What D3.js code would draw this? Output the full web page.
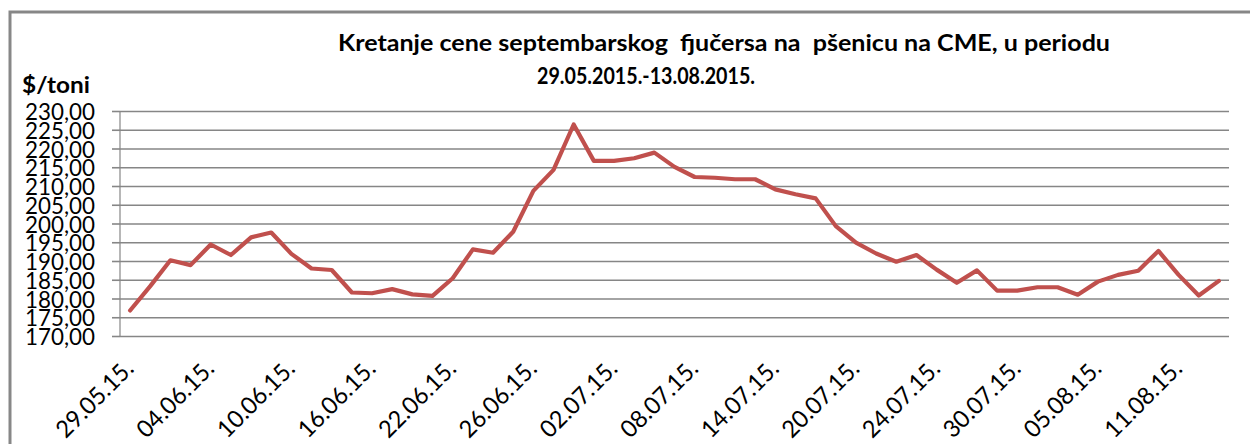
<!DOCTYPE html>
<html>
<head>
<meta charset="utf-8">
<script src="https://cdn.jsdelivr.net/npm/d3@7"></script>
<style>
  html, body { margin: 0; padding: 0; background: #fff; }
  svg { display: block; }
  text { font-family: Lato, "Open Sans", sans-serif; }
</style>
</head>
<body>
<svg id="chart" width="1250" height="444"></svg>
<script>
const dates = [
  "29.05.15.","01.06.15.","02.06.15.","03.06.15.","04.06.15.","05.06.15.","08.06.15.","09.06.15.",
  "10.06.15.","11.06.15.","12.06.15.","15.06.15.","16.06.15.","17.06.15.","18.06.15.","19.06.15.",
  "22.06.15.","23.06.15.","24.06.15.","25.06.15.","26.06.15.","29.06.15.","30.06.15.","01.07.15.",
  "02.07.15.","03.07.15.","06.07.15.","07.07.15.","08.07.15.","09.07.15.","10.07.15.","13.07.15.",
  "14.07.15.","15.07.15.","16.07.15.","17.07.15.","20.07.15.","21.07.15.","22.07.15.","23.07.15.",
  "24.07.15.","27.07.15.","28.07.15.","29.07.15.","30.07.15.","31.07.15.","03.08.15.","04.08.15.",
  "05.08.15.","06.08.15.","07.08.15.","10.08.15.","11.08.15.","12.08.15.","13.08.15."
];
const prices = [
  176.8, 183.3, 190.2, 188.9, 194.4, 191.6, 196.3, 197.6, 191.9, 188.0,
  187.6, 181.6, 181.4, 182.5, 181.1, 180.7, 185.4, 193.1, 192.2, 197.8,
  208.7, 214.3, 226.4, 216.7, 216.7, 217.4, 218.9, 215.1, 212.4, 212.2,
  211.8, 211.8, 209.1, 207.8, 206.7, 199.3, 194.9, 192.0, 189.8, 191.6,
  187.7, 184.2, 187.5, 182.1, 182.1, 183.0, 183.0, 181.0, 184.5, 186.3,
  187.4, 192.7, 186.3, 180.8, 184.7
];
const yTicks = [170, 175, 180, 185, 190, 195, 200, 205, 210, 215, 220, 225, 230];
const xLabelDates = ["29.05.15.","04.06.15.","10.06.15.","16.06.15.","22.06.15.","26.06.15.","02.07.15.",
  "08.07.15.","14.07.15.","20.07.15.","24.07.15.","30.07.15.","05.08.15.","11.08.15."];
const titleLine1 = "Kretanje cene septembarskog  fjučersa na  pšenicu na CME, u periodu";
const titleLine2 = "29.05.2015.-13.08.2015.";
const yUnit = "$/toni";

(function () {
const svg = d3.select("#chart");
const pLeft = 120, pRight = 1229, pTop = 111, pBottom = 336;
const grey = "#868686";

// outer chart border
svg.append("path")
  .attr("d", `M10,460 L10,12 L1260,12`)
  .attr("fill", "none").attr("stroke", "#878787").attr("stroke-width", 3);

const x = d3.scaleBand().domain(dates).range([pLeft, pRight]);
const y = d3.scaleLinear().domain([170, 230]).range([pBottom, pTop]);

// gridlines
const grid = svg.append("g").attr("transform", `translate(${pLeft},0)`)
  .call(d3.axisLeft(y).tickValues(yTicks).tickSize(-(pRight - pLeft)).tickFormat(""));
grid.select(".domain").remove();
grid.selectAll(".tick line").attr("stroke", grey).attr("stroke-width", 1.6);

// y axis with labels and outer tick marks
const fmt = v => d3.format(".2f")(v).replace(".", ",");
const yAxis = svg.append("g").attr("transform", `translate(${pLeft},0)`)
  .call(d3.axisLeft(y).tickValues(yTicks).tickSize(8).tickPadding(17).tickFormat(fmt));
yAxis.select(".domain").attr("stroke", grey).attr("stroke-width", 1.2).attr("d", `M0,${pTop}V${pBottom}`);
yAxis.selectAll(".tick line").attr("stroke", grey).attr("stroke-width", 1.6);
yAxis.selectAll(".tick text")
  .attr("fill", "#000").style("font-size", "24px").attr("dy", "0.36em")
  .attr("textLength", 70).attr("lengthAdjust", "spacingAndGlyphs");

// x axis labels
const xAxis = svg.append("g").attr("transform", `translate(0,${pBottom})`)
  .call(d3.axisBottom(x).tickValues(xLabelDates).tickSize(0));
xAxis.select(".domain").remove();
xAxis.selectAll(".tick text")
  .attr("fill", "#000").style("font-size", "24px")
  .attr("text-anchor", "end").attr("x", 0).attr("y", 0).attr("dy", 0)
  .attr("textLength", 98).attr("lengthAdjust", "spacingAndGlyphs")
  .attr("transform", "translate(5,34) rotate(-45)");

// line
const line = d3.line()
  .x((d, i) => x(dates[i]) + x.bandwidth() / 2)
  .y(d => y(d));
svg.append("path").datum(prices)
  .attr("d", line)
  .attr("fill", "none").attr("stroke", "#C0504D").attr("stroke-width", 4.2)
  .attr("stroke-linejoin", "round").attr("stroke-linecap", "round");

// titles
svg.append("text").attr("x", 338).attr("y", 51)
  .attr("xml:space", "preserve").style("white-space", "pre")
  .attr("textLength", 772).attr("lengthAdjust", "spacingAndGlyphs")
  .style("font-size", "23px").style("font-weight", "bold").attr("fill", "#000")
  .text(titleLine1);
svg.append("text").attr("x", 537).attr("y", 84)
  .attr("textLength", 218).attr("lengthAdjust", "spacingAndGlyphs")
  .style("font-size", "23px").style("font-weight", "bold").attr("fill", "#000")
  .text(titleLine2);
svg.append("text").attr("x", 22).attr("y", 93)
  .attr("textLength", 68).attr("lengthAdjust", "spacingAndGlyphs")
  .style("font-size", "23px").style("font-weight", "bold").attr("fill", "#000")
  .text(yUnit);
})();
</script>
</body>
</html>
